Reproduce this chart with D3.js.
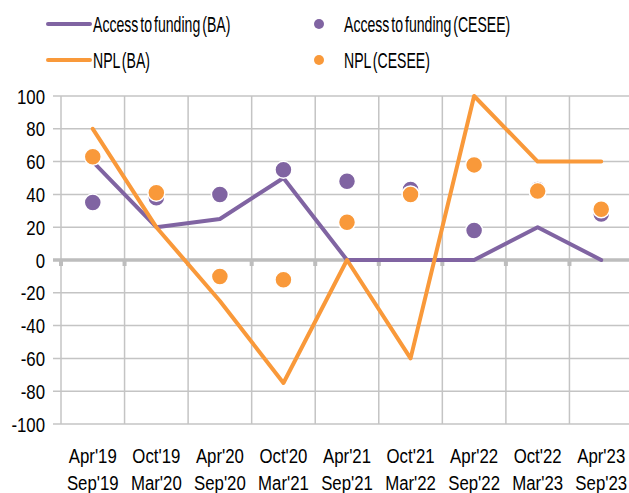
<!DOCTYPE html>
<html>
<head>
<meta charset="utf-8">
<script src="https://cdn.jsdelivr.net/npm/d3@7"></script>
<style>
  body { margin: 0; background: #fff; }
  svg text { font-family: "Liberation Sans", Arial, sans-serif; fill: #000; font-size: 21px; }
</style>
</head>
<body>
<svg id="chart"></svg>
<script>
// categories (two-line labels)
const periodsTop = ["Apr'19", "Oct'19", "Apr'20", "Oct'20", "Apr'21", "Oct'21", "Apr'22", "Oct'22", "Apr'23"];
const periodsBottom = ["Sep'19", "Mar'20", "Sep'20", "Mar'21", "Sep'21", "Mar'22", "Sep'22", "Mar'23", "Sep'23"];

// series values
const accessBA = [60, 20, 25, 50, 0, 0, 0, 20, 0];
const nplBA = [80, 20, -25, -75, 0, -60, 100, 60, 60];
const accessCESEE = [35, 38, 40, 55, 48, 43, 18, 43, 28];
const nplCESEE = [63, 41, -10, -12, 23, 40, 58, 42, 31];

const yTicks = [-100, -80, -60, -40, -20, 0, 20, 40, 60, 80, 100];

const purple = "#8064a2", orange = "#f9993a", gridCol = "#c4c4c4";

const width = 629, height = 493;
const plot = { left: 61, right: 633, top: 96, bottom: 424 };
const axisSqueeze = 0.8, legendSqueeze = 0.64;

const svg = d3.select("#chart")
  .attr("width", width)
  .attr("height", height);

const x = d3.scaleBand()
  .domain(d3.range(periodsTop.length))
  .range([plot.left, plot.right]);

const y = d3.scaleLinear()
  .domain([-100, 100])
  .range([plot.bottom, plot.top]);

// horizontal gridlines
svg.append("g")
  .selectAll("line")
  .data(yTicks)
  .enter().append("line")
  .attr("x1", plot.left - 8)
  .attr("x2", width)
  .attr("y1", d => y(d))
  .attr("y2", d => y(d))
  .attr("stroke", gridCol)
  .attr("stroke-width", 1.5);

// vertical gridlines at category boundaries
const bounds = x.domain().map(i => x(i));
svg.append("g")
  .selectAll("line")
  .data(bounds)
  .enter().append("line")
  .attr("x1", d => d)
  .attr("x2", d => d)
  .attr("y1", plot.top)
  .attr("y2", plot.bottom)
  .attr("stroke", gridCol)
  .attr("stroke-width", 1.5);

// zero axis with small ticks
svg.append("line")
  .attr("x1", plot.left - 8)
  .attr("x2", width)
  .attr("y1", y(0))
  .attr("y2", y(0))
  .attr("stroke", "#bdbdbd")
  .attr("stroke-width", 3.5);
svg.append("g")
  .selectAll("rect")
  .data(bounds)
  .enter().append("rect")
  .attr("x", d => d - 2)
  .attr("y", y(0))
  .attr("width", 4)
  .attr("height", 6)
  .attr("fill", "#bdbdbd");

// y tick labels (condensed by horizontal scaling)
svg.append("g")
  .selectAll("g")
  .data(yTicks)
  .enter().append("g")
  .attr("transform", d => "translate(45," + y(d) + ") scale(" + axisSqueeze + ",1)")
  .append("text")
  .attr("dy", "0.36em")
  .attr("text-anchor", "end")
  .text(d => d);

// x labels
const cx = i => x(i) + x.bandwidth() / 2;
const xl = svg.append("g")
  .selectAll("g")
  .data(periodsTop)
  .enter().append("g")
  .attr("transform", (d, i) => "translate(" + cx(i) + ",0) scale(" + axisSqueeze + ",1)");
xl.append("text")
  .attr("y", 463)
  .attr("text-anchor", "middle")
  .text(d => d);
xl.append("text")
  .attr("y", 490)
  .attr("text-anchor", "middle")
  .text((d, i) => periodsBottom[i]);

const line = d3.line()
  .x((d, i) => cx(i))
  .y(d => y(d));

// lines
svg.append("path")
  .datum(accessBA)
  .attr("d", line)
  .attr("fill", "none")
  .attr("stroke", purple)
  .attr("stroke-width", 4)
  .attr("stroke-linecap", "round")
  .attr("stroke-linejoin", "round");

svg.append("path")
  .datum(nplBA)
  .attr("d", line)
  .attr("fill", "none")
  .attr("stroke", orange)
  .attr("stroke-width", 4)
  .attr("stroke-linecap", "round")
  .attr("stroke-linejoin", "round");

// dots
function dots(data, col) {
  svg.append("g")
    .selectAll("circle")
    .data(data)
    .enter().append("circle")
    .attr("cx", (d, i) => cx(i))
    .attr("cy", d => y(d))
    .attr("r", 8.5)
    .attr("fill", col)
    .attr("stroke", "#fff")
    .attr("stroke-width", 1.5);
}
dots(accessCESEE, purple);
dots(nplCESEE, orange);

// legend
const legendItems = [
  { label: "Access to funding (BA)", col: purple, type: "line", lx: 48, ly: 24 },
  { label: "NPL (BA)", col: orange, type: "line", lx: 48, ly: 60 },
  { label: "Access to funding (CESEE)", col: purple, type: "dot", lx: 319, ly: 24 },
  { label: "NPL (CESEE)", col: orange, type: "dot", lx: 319, ly: 60 }
];
const lg = svg.append("g")
  .selectAll("g")
  .data(legendItems)
  .enter().append("g")
  .attr("transform", d => "translate(" + d.lx + "," + d.ly + ")");
lg.filter(d => d.type === "line").append("line")
  .attr("x1", 0).attr("x2", 42)
  .attr("stroke", d => d.col)
  .attr("stroke-width", 4)
  .attr("stroke-linecap", "round");
lg.filter(d => d.type === "dot").append("circle")
  .attr("r", 5)
  .attr("fill", d => d.col);
lg.append("g")
  .attr("transform", d => "translate(" + (d.type === "line" ? 45 : 25) + ",0) scale(" + legendSqueeze + ",1)")
  .append("text")
  .attr("dy", "0.36em")
  .attr("word-spacing", "-3")
  .style("font-size", "22px")
  .text(d => d.label);
</script>
</body>
</html>
